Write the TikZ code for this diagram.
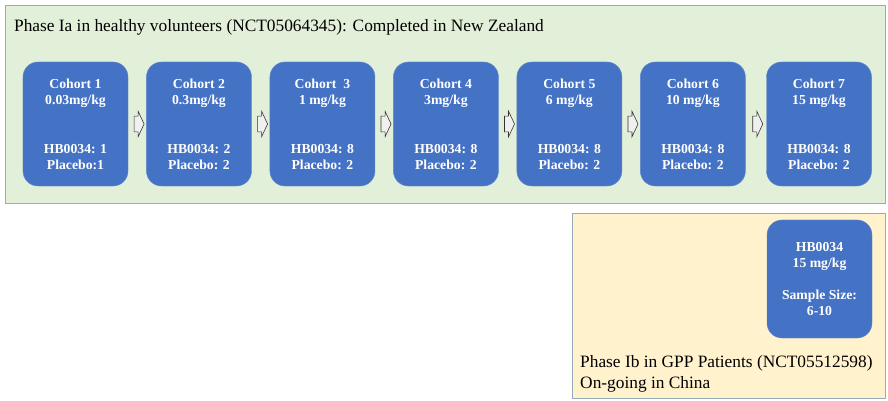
\documentclass[tikz,border=0pt]{standalone}
\usepackage{fontspec}
\setmainfont{Liberation Serif}
\usetikzlibrary{shapes.arrows, positioning}

\definecolor{cohortblue}{RGB}{68,114,196}
\definecolor{phaseagreen}{RGB}{226,239,217}
\definecolor{phasebyellow}{RGB}{255,242,204}
\definecolor{frameline}{RGB}{150,172,186}

\begin{document}
\begin{tikzpicture}[x=0.03cm, y=-0.03cm, node distance=0.54cm, font=\fontsize{14.8}{18}\selectfont,
    phasebox/.style={draw=frameline, line width=0.8pt},
    cohort/.style={fill=cohortblue, draw=cohortblue!85!white, rounded corners=0.45cm, minimum width=3.15cm, minimum height=3.72cm, align=center, text=white, font=\fontsize{11.7}{13.8}\selectfont\bfseries, inner sep=2pt},
    flow/.style={single arrow, draw=black!80, fill=black!6, line width=0.5pt, minimum height=0.3cm, inner xsep=0.3pt, inner ysep=6.5pt, single arrow head extend=4.2pt, single arrow tip angle=130}]
\useasboundingbox (0,0) rectangle (888,401);

% Phase Ia frame
\draw[phasebox, fill=phaseagreen] (5,5) rectangle (885,203);
\node[anchor=west] (titlea) at (10,27) {Phase Ia in healthy volunteers (NCT05064345): Completed in New Zealand};

\node[cohort] (c1) at (75.5,124) {Cohort 1\\0.03mg/kg\\[28pt]HB0034: 1\\Placebo:1};
\node[cohort, right=of c1] (c2) {Cohort 2\\0.3mg/kg\\[28pt]HB0034: 2\\Placebo: 2};
\node[cohort, right=of c2] (c3) {Cohort~ 3\\1 mg/kg\\[28pt]HB0034: 8\\Placebo: 2};
\node[cohort, right=of c3] (c4) {Cohort 4\\3mg/kg\\[28pt]HB0034: 8\\Placebo: 2};
\node[cohort, right=of c4] (c5) {Cohort 5\\6 mg/kg\\[28pt]HB0034: 8\\Placebo: 2};
\node[cohort, right=of c5] (c6) {Cohort 6\\10 mg/kg\\[28pt]HB0034: 8\\Placebo: 2};
\node[cohort, right=0.62cm of c6] (c7) {Cohort 7\\15 mg/kg\\[28pt]HB0034: 8\\Placebo: 2};

\foreach \a/\b in {c1/c2, c2/c3, c3/c4, c4/c5, c5/c6, c6/c7}
  \path (\a) -- node[flow] (\a-\b) {} (\b);

% Phase Ib frame
\draw[phasebox, fill=phasebyellow] (572,213) rectangle (885,398);
\node[cohort, minimum height=3.54cm] (ib) at (819.5,279) {HB0034\\15 mg/kg\\[14pt]Sample Size:\\6-10};
\node[anchor=north west, align=left, inner sep=0pt] (titleb) at (580,355) {Phase Ib in GPP Patients (NCT05512598)\\On-going in China};
\end{tikzpicture}
\end{document}
